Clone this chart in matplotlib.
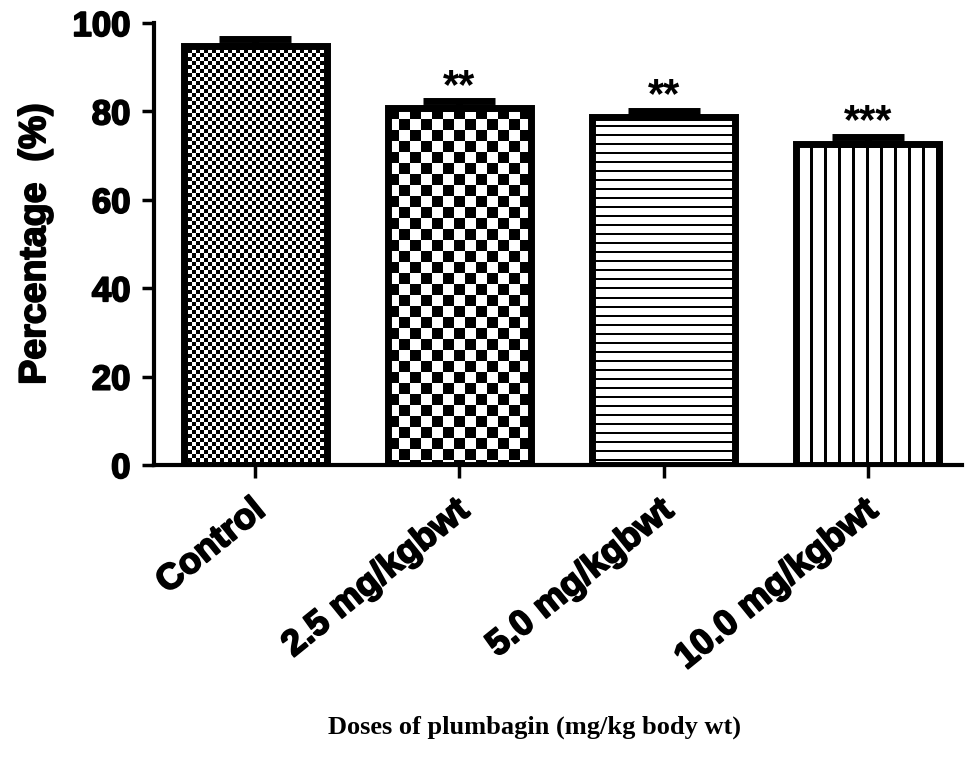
import numpy as np
import matplotlib
matplotlib.use("Agg")
import matplotlib.pyplot as plt
import matplotlib.patheffects as pe
import matplotlib.transforms as mtransforms

# survival percentage per dose group
groups = ["Control", "2.5 mg/kgbwt", "5.0 mg/kgbwt", "10.0 mg/kgbwt"]
means = [94.9, 80.7, 78.8, 72.6]
sem = [1.5, 1.6, 1.4, 1.6]
stars = ["", "**", "**", "***"]

heavy = [pe.withStroke(linewidth=1.3, foreground="black")]

fig = plt.figure(figsize=(9.71, 7.80), dpi=100)
ax = fig.add_axes([0.1586, 0.4038, 0.832, 0.5667])

x = np.arange(len(groups))
ax.set_xlim(-0.495, 3.46)
ax.set_ylim(0, 100)

bars = ax.bar(x, means, width=0.7, facecolor="none", edgecolor="black",
              linewidth=5, zorder=3)


def texture(kind, nx, ny):
    i, j = np.indices((ny, nx))
    if kind == "fine":
        return ((i // 4 + j // 4) % 2).astype(float)
    if kind == "coarse":
        return ((i // 11 + j // 11) % 2).astype(float)
    if kind == "hlines":
        return (i % 9 >= 2).astype(float)
    return (j % 14 >= 3).astype(float)


kinds = ["fine", "coarse", "hlines", "vlines"]
for b, k in zip(bars, kinds):
    x0, w, h = b.get_x(), b.get_width(), b.get_height()
    p0 = ax.transData.transform((x0, 0))
    p1 = ax.transData.transform((x0 + w, h))
    nx = int(round(p1[0] - p0[0]))
    ny = int(round(p1[1] - p0[1]))
    im = ax.imshow(texture(k, nx, ny), cmap="gray", vmin=0, vmax=1,
                   extent=(x0, x0 + w, 0, h), origin="upper",
                   interpolation="nearest", aspect="auto", zorder=2)
    im.set_clip_path(b)

ax.set_xlim(-0.495, 3.46)
ax.set_ylim(0, 100)

# upper error bars only
ax.errorbar(x, means, yerr=[np.zeros(len(sem)), sem], fmt="none",
            ecolor="black", elinewidth=5, capsize=26, capthick=5, zorder=4)

for xi, m, s, t in zip(x, means, sem, stars):
    if t:
        ax.text(xi, m + s + 0.8, t, ha="center", va="baseline",
                fontsize=30, fontweight="bold", family="Liberation Sans")

for sp in ["top", "right"]:
    ax.spines[sp].set_visible(False)
for sp in ["left", "bottom"]:
    ax.spines[sp].set_linewidth(3)

ax.set_yticks([0, 20, 40, 60, 80, 100])
ax.tick_params(axis="both", length=9, width=2.5, direction="out")
ax.tick_params(axis="y", pad=8)
ax.set_xticks(x)
ax.set_xticklabels(groups, rotation=39, ha="right", va="top",
                   rotation_mode="anchor")

shift = mtransforms.ScaledTranslation(-5 / 100, -10 / 100, fig.dpi_scale_trans)
for lbl in ax.get_xticklabels():
    lbl.set_transform(lbl.get_transform() + shift)
    lbl.set_fontsize(26)
for lbl in ax.get_yticklabels():
    lbl.set_fontsize(25)

for lbl in ax.get_xticklabels() + ax.get_yticklabels():
    lbl.set_fontweight("bold")
    lbl.set_family("Liberation Sans")
    lbl.set_path_effects(heavy)

ax.set_ylabel("Percentage  (%)", fontsize=27, fontweight="bold",
              family="Liberation Sans", labelpad=14, path_effects=heavy)

fig.text(0.55, 0.068, "Doses of plumbagin (mg/kg body wt)", ha="center",
         va="center", fontsize=19, fontweight="bold", family="Liberation Serif")

fig.savefig("out.png", dpi=100)
